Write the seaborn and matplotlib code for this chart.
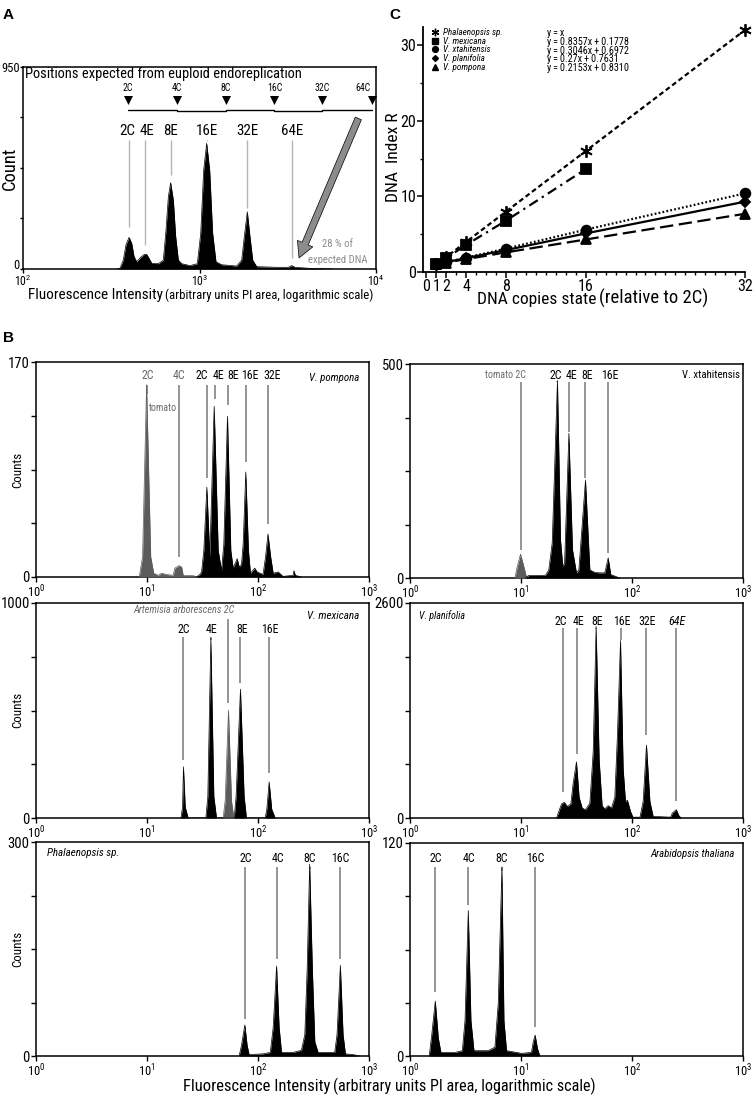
import numpy as np
import pandas as pd
import matplotlib
matplotlib.use("Agg")
import matplotlib.pyplot as plt
import matplotlib.transforms as mtransforms
import seaborn as sns
from matplotlib import font_manager
from matplotlib.lines import Line2D
from matplotlib.ticker import NullLocator, MultipleLocator

# ======================= DATA =======================
# ---- Panel A: histogram outline (fluorescence, counts) ----
A_x = [340, 354, 370, 383, 399, 413, 426, 441, 464, 487, 502, 518, 536, 585, 624, 646,
       666, 686, 711, 733, 759, 793, 883, 972, 1016, 1056, 1098, 1142, 1187, 1240, 1335,
       1624, 1734, 1794, 1866, 1932, 2002, 2109, 2737, 3185, 3331, 3475, 4227, 5700]
A_y = [0, 3, 42, 113, 149, 121, 58, 34, 55, 69, 69, 50, 27, 25, 42, 183,
       340, 406, 324, 152, 42, 25, 16, 25, 168, 465, 591, 465, 168, 34, 20,
       14, 42, 152, 269, 152, 42, 11, 8, 8, 16, 8, 3, 0]
A_peak_labels = ["2C", "4E", "8E", "16E", "32E", "64E"]
A_peak_label_x = [390, 503, 684, 1098, 1860, 3331]
A_peak_x = [399, 494, 686, 1098, 1866, 3331]
A_peak_line_end = [199, 113, 442, 600, 285, 50]
A_expected_labels = ["2C", "4C", "8C", "16C", "32C", "64C"]
A_expected_x = [393, 744, 1410, 2657, 4970, 9452]
A_expected_label_x = [393, 744, 1410, 2657, 4970, 8433]

# ---- Panel B: V. pompona ----
PO_std_x = [8.51, 9.12, 9.91, 10.8, 11.5, 12.6, 13.5, 15.0, 17.2, 17.8, 19.4, 20.5, 21.2, 26.1, 28.9]
PO_std_y = [0, 16, 152, 16, 3, 1.3, 3, 2, 1.3, 7, 9, 8, 1.3, 1, 0]
PO_x = [27.9, 29.9, 31.0, 32.5, 34.6, 36.8, 40.3, 43.8, 46.9, 49.2, 53.1, 56.9, 59.7,
        64.9, 67.6, 71.0, 73.5, 77.6, 82.0, 85.5, 93.5, 98.2, 111, 117, 123, 130, 137,
        152, 168, 207, 211, 217, 246]
PO_y = [0, 2, 4, 21, 71, 16, 135, 21, 5, 26, 127, 21, 7,
        14.5, 8, 10, 26, 83, 21, 3, 7, 4, 2, 16, 34, 16, 3,
        4, 0.5, 1.3, 5, 1.3, 0]
PO_labels = ["2C", "4C", "2C", "4E", "8E", "16E", "32E"]
PO_label_x = [10.1, 19.4, 31.4, 43.8, 59.7, 84.4, 135]
PO_line_x = [10.1, 19.4, 34.6, 40.8, 53.5, 77.6, 124]
PO_line_end = [145, 16, 78, 141, 136, 91, 42]
PO_is_std = [1, 1, 0, 0, 0, 0, 0]

# ---- Panel B: V. xtahitensis ----
TA_std_x = [8.81, 9.25, 9.9, 10.6, 11.2]
TA_std_y = [0, 27, 56, 27, 1.5]
TA_x = [11.0, 11.8, 16.6, 17.8, 19.1, 21.3, 22.7, 23.8, 24.7, 27.0, 29.1, 31.6, 33.2,
        38.1, 41.7, 46.2, 51.3, 56.9, 61.0, 64.4, 75.0, 77.6]
TA_y = [1.5, 6, 6, 19, 82, 461, 89, 27, 35, 338, 66, 12, 19,
        229, 19, 13, 12, 12, 47, 8, 1.5, 0]
TA_labels = ["tomato 2C", "2C", "4E", "8E", "16E"]
TA_label_x = [7.2, 20.6, 28.5, 39.7, 63.6]
TA_line_x = [9.9, 21.3, 27.2, 38.1, 60.5]
TA_line_end = [66, 461, 342, 233, 58]

# ---- Panel B: V. mexicana ----
ME_std_x = [48.5, 50.6, 54.2, 57.7, 60.5]
ME_std_y = [0, 80, 502, 80, 0]
ME_x = [20.2, 20.9, 21.3, 22.1, 23.5, 33.9, 35.3, 37.6, 40.0, 42.3,
        61.0, 63.5, 69.5, 75.0, 78.7, 116, 120, 126, 133, 143]
ME_y = [0, 51, 238, 51, 0, 0, 100, 837, 100, 0,
        0, 100, 599, 100, 0, 0, 40, 168, 40, 0]
ME_labels = ["2C", "4E", "8E", "16E"]
ME_label_x = [21.3, 38.1, 72.0, 128]
ME_line_x = [21.3, 37.8, 69.5, 126]
ME_line_end = [269, 830, 627, 207]
ME_std_label_x = 21.4
ME_std_line_x = 54.2
ME_std_line_end = 533

# ---- Panel B: V. planifolia ----
PL_x = [20.9, 21.9, 23.2, 24.5, 26.2, 28.1, 29.5, 31.6, 33.4, 35.6, 38.1, 41.7, 44.7,
        47.5, 50.6, 53.8, 56.9, 61.0, 65.3, 70.0, 73.9, 78.8, 83.2, 87.3, 91.0, 96.9,
        102, 118, 126, 135, 145, 155, 222, 231, 251, 264, 277]
PL_y = [0, 80, 170, 190, 140, 170, 420, 679, 250, 120, 100, 180, 800,
        2317, 700, 150, 110, 150, 120, 250, 1000, 2147, 600, 200, 214, 80,
        10, 10, 200, 881, 200, 20, 10, 60, 101, 30, 0]
PL_labels = ["2C", "4E", "8E", "16E", "32E", "64E"]
PL_label_x = [22.7, 32.7, 48.5, 80.4, 138, 255]
PL_line_x = [24.0, 31.8, 47.5, 78.8, 134, 251]
PL_line_end = [315, 780, 2290, 2155, 1003, 206]

# ---- Panel B: Phalaenopsis sp. ----
PH_x = [67.6, 71.0, 76.1, 79.8, 83.2, 111, 129, 137, 147, 155, 163, 207, 246,
        264, 277, 292, 309, 325, 348, 491, 515, 552, 584, 613, 718, 825]
PH_y = [0, 15, 43.6, 15, 2, 3, 5, 40, 126, 40, 5, 5, 8,
        30, 120, 269, 120, 20, 5, 5, 30, 127, 30, 3, 2, 0]
PH_labels = ["2C", "4C", "8C", "16C"]
PH_label_x = [77.1, 150, 292, 552]
PH_line_x = [76.1, 147, 292, 552]
PH_line_end = [52, 136, 262, 136]

# ---- Panel B: Arabidopsis thaliana ----
AR_x = [1.49, 1.57, 1.69, 1.80, 1.90, 2.54, 2.96, 3.13, 3.35, 3.54, 3.77, 5.07,
        5.82, 6.24, 6.73, 7.02, 7.41, 10.1, 12.4, 12.9, 13.4, 14.1, 14.8]
AR_y = [0, 12, 31, 10, 2, 2, 3, 20, 82, 20, 3, 3,
        5, 30, 106.5, 20, 3, 1.5, 2, 8, 11.8, 4, 0]
AR_labels = ["2C", "4C", "8C", "16C"]
AR_label_x = [1.69, 3.37, 6.73, 13.4]
AR_line_x = [1.69, 3.35, 6.73, 13.4]
AR_line_end = [36, 85, 104, 16.5]

B_ymax = [170, 500, 1000, 2600, 300, 120]

# ---- Panel C ----
C_species = ["Phalaenopsis sp.", "V. mexicana", "V. xtahitensis", "V. planifolia", "V. pompona"]
C_equations = ["y\u2009=\u2009x", "y\u2009=\u20090.8357x\u2009+\u20090.1778",
               "y\u2009=\u20090.3046x\u2009+\u20090.6972", "y\u2009=\u20090.27x\u2009+\u20090.7631",
               "y\u2009=\u20090.2153x\u2009+\u20090.8310"]
C_x_phal = [1, 2, 4, 8, 16, 32]
C_y_phal = [1, 2, 4, 8, 16, 32]
C_x_mex = [1, 2, 4, 8, 16]
C_y_mex = [1.0, 1.85, 3.6, 6.8, 13.6]
C_x_tah = [1, 2, 4, 8, 16, 32]
C_y_tah = [1.0, 1.3, 1.9, 3.1, 5.6, 10.4]
C_x_pla = [1, 2, 4, 8, 16, 32]
C_y_pla = [1.0, 1.3, 1.85, 2.9, 5.1, 9.3]
C_x_pom = [1, 2, 4, 8, 16, 32]
C_y_pom = [1.0, 1.25, 1.7, 2.6, 4.3, 7.7]
C_xticks = [0, 1, 2, 4, 8, 16, 32]
C_yticks = [0, 10, 20, 30]

# ======================= STYLE =======================
sns.set_theme(style="ticks")
entries = font_manager.fontManager.ttflist
names = {f.name for f in entries}
NARROW = None
for cand in ["Liberation Sans Narrow", "Arial Narrow", "Nimbus Sans Narrow",
             "Roboto Condensed", "Noto Sans Condensed", "Open Sans Condensed",
             "DejaVu Sans Condensed", "Noto Sans SemiCondensed", "Open Sans SemiCondensed"]:
    if cand in names:
        NARROW = cand
        break
STRETCH = "normal"
if NARROW is None:
    for fam in ["Liberation Sans", "Roboto", "Noto Sans", "Open Sans", "DejaVu Sans"]:
        if any(f.name == fam and str(f.stretch) in ("condensed", "semi-condensed")
               for f in entries):
            NARROW = fam
            STRETCH = "condensed"
            break
CONDENSED = NARROW is not None
if NARROW is None:
    NARROW = "Liberation Sans"
REG = "Liberation Sans"
GROW = 1.0 if CONDENSED else 1.12

plt.rcParams["font.family"] = [NARROW, "DejaVu Sans"]
plt.rcParams["font.stretch"] = STRETCH
plt.rcParams["mathtext.fontset"] = "custom"
plt.rcParams["mathtext.rm"] = NARROW
plt.rcParams["mathtext.it"] = NARROW + ":italic"
plt.rcParams["mathtext.bf"] = NARROW + ":bold"
plt.rcParams.update({
    "axes.linewidth": 1.0, "axes.edgecolor": "black",
    "xtick.major.width": 1.0, "ytick.major.width": 1.0,
    "xtick.major.size": 3.5, "ytick.major.size": 3.5,
    "xtick.direction": "out", "ytick.direction": "out",
    "xtick.color": "black", "ytick.color": "black",
    "text.color": "black", "axes.labelcolor": "black",
})

STD_GREY = "#5c5c5c"
LINE_GREY = "#8c8c8c"
TXT_GREY = "#6a6a6a"

fig = plt.figure(figsize=(7.55, 10.97), dpi=100)
W, H = 755.0, 1097.0
R = fig.canvas.get_renderer()


def rect(l, t, r, b):
    return [l / W, 1 - b / H, (r - l) / W, (b - t) / H]


def fs_for(s, width_px, grow=1.0, **kw):
    t = fig.text(0, 0, s, fontsize=10, **kw)
    w = t.get_window_extent(R).width
    t.remove()
    return 10.0 * width_px / w * grow


def fig_text(s, x_px, y_px, width_px=None, height_px=None, grow=1.0, **kw):
    t = fig.text(x_px / W, 1 - y_px / H, s, fontsize=10, **kw)
    bb = t.get_window_extent(R)
    if width_px:
        t.set_fontsize(10 * width_px / bb.width * grow)
    elif height_px:
        t.set_fontsize(10 * height_px / bb.height * grow)
    return t


def draw_hist(ax, xs, ys, color):
    df = pd.DataFrame({"x": xs, "y": ys})
    sns.lineplot(data=df, x="x", y="y", ax=ax, color=color, lw=0.5,
                 estimator=None, sort=False, zorder=3)
    ax.fill_between(df["x"], 0, df["y"], color=color, lw=0, zorder=3)


def setup_hist_axes(ax, xlim, xticks, ymax, ylab_size=10.5, xlab_size=9):
    ax.set_xlim(*xlim)
    ax.set_ylim(0, ymax)
    ax.set_xticks(xticks)
    ax.xaxis.set_minor_locator(NullLocator())
    ax.set_yticks(np.linspace(0, ymax, 5))
    ax.set_yticklabels(["0", "", "", "", f"{ymax:g}"])
    ax.set_xlabel("")
    ax.set_ylabel("")
    ax.tick_params(axis="x", labelsize=xlab_size, pad=1.5)
    ax.tick_params(axis="y", labelsize=ylab_size, pad=1.0)
    for sp in ax.spines.values():
        sp.set_visible(True)
        sp.set_linewidth(1.1)


def peak_marks(ax, labels, label_x, label_y, line_x, line_top, line_end, fs,
               line_color, is_std=None, italic=None, lw=1.3):
    for i, (lab, lx) in enumerate(zip(labels, label_x)):
        std = is_std is not None and is_std[i]
        ital = italic is not None and italic[i]
        ax.text(lx, label_y, lab, ha="center", va="center", fontsize=fs,
                color=TXT_GREY if std else "black", style="italic" if ital else "normal")
    ax.vlines(line_x, line_end, line_top, colors=line_color, lw=lw, zorder=1)


# ======================= PANEL A =======================
axA = fig.add_axes(rect(23, 67, 376, 269))
axA.set_xscale("log")
draw_hist(axA, A_x, A_y, "black")
setup_hist_axes(axA, (100, 10000), [100, 1000, 10000], 950, ylab_size=9, xlab_size=8.5)
axA.tick_params(axis="y", length=2.2, pad=0.3)
axA.tick_params(axis="x", length=3, pad=0.5)
# lift the "0" count label a little so it clears the 10^2 label below it
zero_lab = axA.get_yticklabels()[0]
zero_lab.set_transform(zero_lab.get_transform() +
                       mtransforms.ScaledTranslation(0, 3.5 / 72, fig.dpi_scale_trans))
fsA = fs_for("16E", 22, grow=GROW)
peak_marks(axA, A_peak_labels, A_peak_label_x, 649, A_peak_x, 607, A_peak_line_end, fsA,
           "#b4b4b4", lw=1.0)
fsAe = fs_for("16C", 15, grow=GROW)
axA.scatter(A_expected_x, [797] * len(A_expected_x), marker="v", s=42, color="black",
            clip_on=False, zorder=5, lw=0)
for lab, x in zip(A_expected_labels, A_expected_label_x):
    axA.text(x, 850, lab, ha="center", va="center", fontsize=fsAe)
for i in range(len(A_expected_x) - 1):
    yy = 750 if i % 2 == 0 else 742
    axA.plot([A_expected_x[i], A_expected_x[i + 1]], [yy, yy], color="black", lw=1.0,
             clip_on=False)
axA.text(103, 916, "Positions expected from euploid endoreplication", ha="left",
         va="center", fontsize=fs_for("Positions expected from euploid endoreplication", 275))
axA.annotate("", xy=(3664, 52), xytext=(7943, 708),
             arrowprops=dict(arrowstyle="simple,head_length=0.7,head_width=0.75,tail_width=0.3",
                             fc="#8c8c8c", ec="black", lw=0.5, mutation_scale=16,
                             shrinkA=0, shrinkB=0))
fsG = fs_for("expected DNA", 59, grow=GROW)
axA.text(6039, 119, "28 % of", ha="center", va="center", fontsize=fsG, color="#8c8c8c")
axA.text(6039, 44, "expected DNA", ha="center", va="center", fontsize=fsG, color="#8c8c8c")

fig_text("Count", 10, 168, height_px=43, rotation=90, ha="center", va="center")
fig_text("Fluorescence Intensity", 28, 299, width_px=134, ha="left", va="baseline")
fig_text("(arbitrary units PI area, logarithmic scale)", 165, 299, width_px=208,
         ha="left", va="baseline")

# ======================= PANEL B =======================
fsB = fs_for("16E", 17.5, grow=GROW)
b_rects = [rect(36, 362, 369, 577), rect(410, 364, 743, 578),
           rect(36, 603, 369, 818), rect(410, 603, 743, 818),
           rect(36, 842, 369, 1056), rect(410, 843, 743, 1056)]
axes_B = [fig.add_axes(r) for r in b_rects]
for ax in axes_B:
    ax.set_xscale("log")

# V. pompona
ax = axes_B[0]
draw_hist(ax, PO_std_x, PO_std_y, STD_GREY)
draw_hist(ax, PO_x, PO_y, "black")
setup_hist_axes(ax, (1, 1000), [1, 10, 100, 1000], B_ymax[0])
peak_marks(ax, PO_labels, PO_label_x, 159, PO_line_x, 152, PO_line_end,
           fs_for("16E", 17.5), LINE_GREY, is_std=PO_is_std)
ax.text(10.4, 134, "tomato", ha="left", va="center", color=TXT_GREY,
        fontsize=fs_for("tomato", 28, grow=GROW))
ax.text(0.97, 0.925, "V. pompona", transform=ax.transAxes, ha="right", va="center",
        style="italic", fontsize=fs_for("V. pompona", 50, grow=GROW, style="italic"))

# V. xtahitensis
ax = axes_B[1]
draw_hist(ax, TA_std_x, TA_std_y, STD_GREY)
draw_hist(ax, TA_x, TA_y, "black")
setup_hist_axes(ax, (1, 1000), [1, 10, 100, 1000], B_ymax[1])
peak_marks(ax, TA_labels[1:], TA_label_x[1:], 474, TA_line_x, 459, TA_line_end, fsB,
           LINE_GREY)
ax.text(TA_label_x[0], 474, TA_labels[0], ha="center", va="center", color=TXT_GREY,
        fontsize=fs_for(TA_labels[0], 41, grow=GROW))
ax.text(0.99, 0.949, "V. xtahitensis", transform=ax.transAxes, ha="right", va="center",
        fontsize=fs_for("V. xtahitensis", 57, grow=GROW))

# V. mexicana
ax = axes_B[2]
draw_hist(ax, ME_std_x, ME_std_y, STD_GREY)
draw_hist(ax, ME_x, ME_y, "black")
setup_hist_axes(ax, (1, 1000), [1, 10, 100, 1000], B_ymax[2])
peak_marks(ax, ME_labels, ME_label_x, 879, ME_line_x, 840, ME_line_end, fsB, LINE_GREY)
ax.vlines([ME_std_line_x], [ME_std_line_end], [925], colors=LINE_GREY, lw=1.3, zorder=1)
ax.text(ME_std_label_x, 966, "Artemisia arborescens 2C", ha="center", va="center",
        style="italic", color=TXT_GREY,
        fontsize=fs_for("Artemisia arborescens 2C", 101, grow=GROW, style="italic"))
ax.text(0.97, 0.938, "V. mexicana", transform=ax.transAxes, ha="right", va="center",
        style="italic", fontsize=fs_for("V. mexicana", 52, grow=GROW, style="italic"))

# V. planifolia
ax = axes_B[3]
draw_hist(ax, PL_x, PL_y, "black")
setup_hist_axes(ax, (1, 1000), [1, 10, 100, 1000], B_ymax[3])
peak_marks(ax, PL_labels, PL_label_x, 2378, PL_line_x, 2297, PL_line_end, fsB, LINE_GREY,
           italic=[0, 0, 0, 0, 0, 1])
ax.text(0.028, 0.941, "V. planifolia", transform=ax.transAxes, ha="left", va="center",
        style="italic", fontsize=fs_for("V. planifolia", 46, grow=GROW, style="italic"))

# Phalaenopsis sp.
ax = axes_B[4]
draw_hist(ax, PH_x, PH_y, "black")
setup_hist_axes(ax, (1, 1000), [1, 10, 100, 1000], B_ymax[4])
peak_marks(ax, PH_labels, PH_label_x, 277, PH_line_x, 265, PH_line_end, fsB, LINE_GREY)
ax.text(0.032, 0.948, "Phalaenopsis sp.", transform=ax.transAxes, ha="left", va="center",
        style="italic", fontsize=fs_for("Phalaenopsis sp.", 72, grow=GROW, style="italic"))

# Arabidopsis thaliana
ax = axes_B[5]
draw_hist(ax, AR_x, AR_y, "black")
setup_hist_axes(ax, (1, 1000), [1, 10, 100, 1000], B_ymax[5])
peak_marks(ax, AR_labels, AR_label_x, 111, AR_line_x, 106.5, AR_line_end, fsB, LINE_GREY)
ax.text(0.975, 0.95, "Arabidopsis thaliana", transform=ax.transAxes, ha="right",
        va="center", style="italic",
        fontsize=fs_for("Arabidopsis thaliana", 85, grow=GROW, style="italic"))

for yc in [470, 710, 949]:
    fig_text("Counts", 18, yc, height_px=30, grow=1.2 * GROW, rotation=90, ha="center",
             va="center")
fig_text("Fluorescence Intensity", 183, 1091, width_px=147, ha="left", va="baseline")
fig_text("(arbitrary units PI area, logarithmic scale)", 333, 1091, width_px=262,
         ha="left", va="baseline")

# ======================= PANEL C =======================
axC = fig.add_axes(rect(423, 27, 745, 272))
sns.despine(ax=axC)
series = [
    (C_x_phal, C_y_phal, (6, 2, 0), 9, (0, (2.2, 1.4))),
    (C_x_mex, C_y_mex, "s", 7, (0, (4.5, 2.2, 1, 2.2))),
    (C_x_tah, C_y_tah, "o", 7, (0, (0.8, 1.0))),
    (C_x_pla, C_y_pla, "D", 5, "-"),
    (C_x_pom, C_y_pom, "^", 6.5, (0, (6, 2.5))),
]
for xs, ys, mk, ms, ls in series:
    df = pd.DataFrame({"x": xs, "y": ys})
    sns.lineplot(data=df, x="x", y="y", ax=axC, color="black", lw=1.6, linestyle=ls,
                 marker=mk, markersize=ms, markeredgecolor="black", markerfacecolor="black",
                 markeredgewidth=1.3, estimator=None, clip_on=False, zorder=4)
axC.set_xlim(-0.35, 32)
axC.set_ylim(0, 32.4)
axC.set_xticks(C_xticks)
axC.set_yticks(C_yticks)
axC.xaxis.set_minor_locator(MultipleLocator(1))
axC.yaxis.set_minor_locator(MultipleLocator(5))
axC.tick_params(which="major", labelsize=11.5, pad=1.0, length=4, width=1.1)
axC.tick_params(which="minor", length=2.5, width=1.0)
axC.set_xlabel("")
axC.set_ylabel("")
for sp in ["left", "bottom"]:
    axC.spines[sp].set_linewidth(1.3)


def row_spacing(fs):
    tmp = fig.text(0, 0, "Phalaenopsis sp.", fontsize=fs)
    h = tmp.get_window_extent(R).height
    tmp.remove()
    return (8.75 - h) / (fs * 100 / 72.0)


fsL = fs_for("Phalaenopsis sp.", 60, style="italic")
fsE = fs_for(C_equations[1], 81)
ax_w_px, ax_h_px = 322.0, 245.0
handles1 = [Line2D([], [], marker=mk, color="black", ls="none", markersize=ms * 0.6,
                   markeredgewidth=1.0) for _, _, mk, ms, _ in series]
leg1 = axC.legend(handles1, C_species, loc="upper left",
                  bbox_to_anchor=((430.5 - 423) / ax_w_px, (272 - 28) / ax_h_px),
                  frameon=False, fontsize=fsL, handlelength=1.0, handletextpad=0.39,
                  labelspacing=row_spacing(fsL), borderpad=0, borderaxespad=0)
for t in leg1.get_texts():
    t.set_fontstyle("italic")
axC.add_artist(leg1)
handles2 = [Line2D([], [], ls="none") for _ in C_equations]
leg2 = axC.legend(handles2, C_equations, loc="upper left",
                  bbox_to_anchor=((547 - 423) / ax_w_px, (272 - 28) / ax_h_px),
                  frameon=False, fontsize=fsE, handlelength=0, handletextpad=0,
                  labelspacing=row_spacing(fsE), borderpad=0, borderaxespad=0)

fig_text("DNA  Index R", 394, 157, height_px=89, rotation=90, ha="center", va="center")
fig_text("DNA copies state", 477, 304, width_px=118, ha="left", va="baseline")
fig_text("(relative to 2C)", 599, 304, width_px=108, ha="left", va="baseline")

# ---- panel letters ----
for lab, x, y in [("A", 8, 15), ("B", 9, 338), ("C", 395, 15)]:
    fig.text(x / W, 1 - y / H, lab, fontsize=11, fontweight="bold", ha="center",
             va="center", family=[REG, "DejaVu Sans"], stretch="normal")

fig.savefig("out.png", dpi=100)
